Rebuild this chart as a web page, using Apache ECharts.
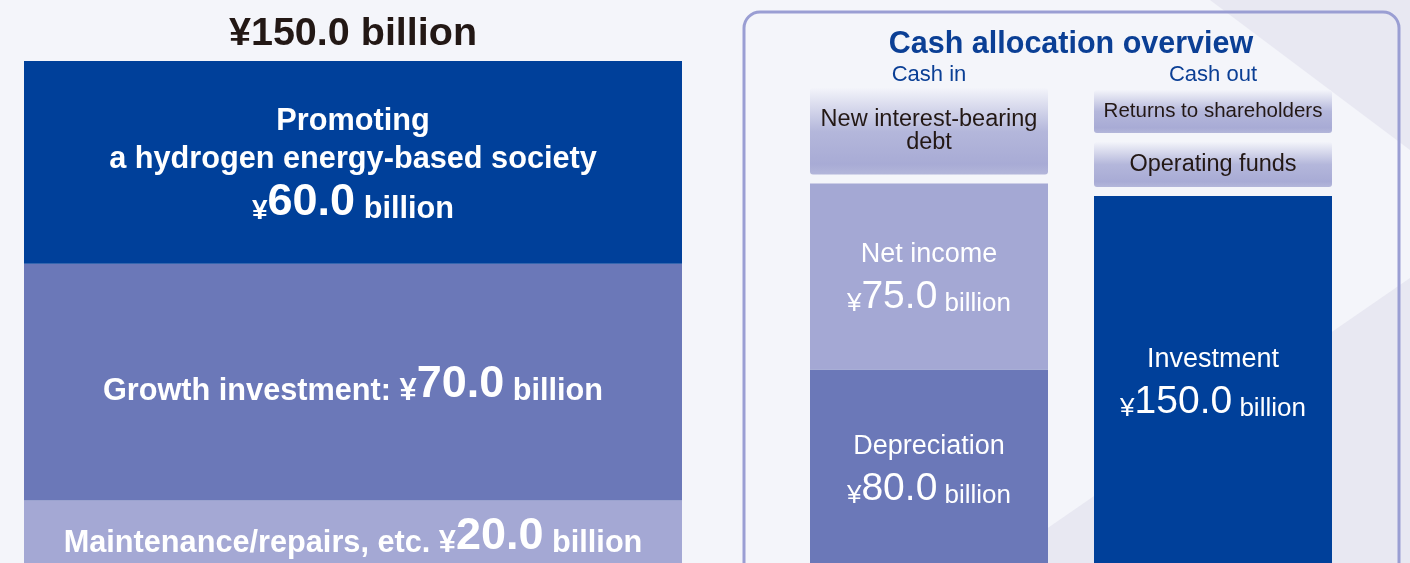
<!DOCTYPE html>
<html>
<head>
<meta charset="utf-8">
<title>Capital investment and cash allocation</title>
<script src="https://cdn.jsdelivr.net/npm/echarts@6/dist/echarts.min.js"></script>
<style>
  html, body { margin: 0; padding: 0; background: #f4f5fa; }
  #chart { width: 1410px; height: 563px; }
</style>
</head>
<body>
<div id="chart"></div>
<script>
// capital investment plan, ¥ billion, stacked bottom to top
const capexTotal = 150.0
const capexNames = ['Maintenance/repairs, etc.', 'Growth investment:', 'Promoting\na hydrogen energy-based society']
const capexValues = [20.0, 70.0, 60.0]

// cash allocation overview, ¥ billion, stacked bottom to top
const flowCategories = ['Cash in', 'Cash out']
const cashInNames = ['Depreciation', 'Net income']
const cashInValues = [80.0, 75.0]
const cashOutNames = ['Investment']
const cashOutValues = [150.0]
// these amounts are not printed
const cashInOtherNames = ['New interest-bearing\ndebt']
const cashInOtherValues = [38.5]
const cashOutOtherNames = ['Operating funds', 'Returns to shareholders']
const cashOutOtherValues = [21.8, 20.9]

const FONT = '"Liberation Sans", Arial, Helvetica, sans-serif'
const DARK = '#00409a'
const MID = '#6b78b8'
const LIGHT = '#a4a8d4'
const capexColors = [LIGHT, MID, DARK]
const flowColors = { 'Depreciation': MID, 'Net income': LIGHT, 'Investment': DARK }
const FLOW_BAR_WIDTH = 238
const BOX_GAP = 9

function buildColumn (cat, names, values, otherNames, otherValues) {
  const items = []
  let base = 0
  names.forEach((name, i) => {
    items.push({ cat: cat, name: name, value: values[i], start: base, end: base + values[i], boxed: false })
    base += values[i]
  })
  otherNames.forEach((name, i) => {
    items.push({ cat: cat, name: name, value: otherValues[i], start: base, end: base + otherValues[i], boxed: true })
    base += otherValues[i]
  })
  return items
}

const flowItems = buildColumn(0, cashInNames, cashInValues, cashInOtherNames, cashInOtherValues)
  .concat(buildColumn(1, cashOutNames, cashOutValues, cashOutOtherNames, cashOutOtherValues))

const boxGradient = new echarts.graphic.LinearGradient(0, 0, 0, 1, [
  { offset: 0, color: '#f3f4fa' },
  { offset: 0.5, color: '#b4b7db' },
  { offset: 0.88, color: '#a8abd5' },
  { offset: 1, color: '#b3b6da' }
])

function renderFlow (params, api) {
  const item = flowItems[params.dataIndex]
  const bottom = api.coord([api.value(0), api.value(1)])
  const top = api.coord([api.value(0), api.value(2)])
  const y0 = item.boxed ? bottom[1] - BOX_GAP : bottom[1]
  let style
  if (item.boxed) {
    // long one-liners are set a bit smaller so they fit the box
    const longest = Math.max.apply(null, item.name.split('\n').map(l => l.length))
    style = {
      text: item.name,
      fill: '#231815',
      fontFamily: FONT,
      fontSize: longest > 21 ? 20.5 : 23.5,
      lineHeight: 23,
      align: 'center',
      verticalAlign: 'middle'
    }
  } else {
    style = {
      text: '{a|' + item.name + '}\n{s|¥}{b|' + item.value.toFixed(1) + '}{s| billion}',
      fill: '#ffffff',
      fontFamily: FONT,
      align: 'center',
      verticalAlign: 'middle',
      rich: {
        a: { fill: '#ffffff', fontFamily: FONT, fontSize: 27, lineHeight: 36 },
        s: { fill: '#ffffff', fontFamily: FONT, fontSize: 26, lineHeight: 44, verticalAlign: 'bottom' },
        b: { fill: '#ffffff', fontFamily: FONT, fontSize: 39, lineHeight: 44, verticalAlign: 'bottom' }
      }
    }
  }
  return {
    type: 'rect',
    shape: {
      x: bottom[0] - FLOW_BAR_WIDTH / 2,
      y: top[1],
      width: FLOW_BAR_WIDTH,
      height: y0 - top[1],
      r: item.boxed ? 3 : 0
    },
    style: { fill: item.boxed ? boxGradient : flowColors[item.name] },
    textContent: { style: style },
    textConfig: { position: 'inside' }
  }
}

function capexLabel (params) {
  const i = params.seriesIndex
  const lines = capexNames[i].split('\n')
  const amount = '{y|¥}{n|' + capexValues[i].toFixed(1) + '}{t| billion}'
  if (lines.length > 1) {
    return lines.map(l => '{t|' + l + '}').join('\n') + '\n' + amount
  }
  return '{t|' + lines[0] + ' ¥}{n|' + capexValues[i].toFixed(1) + '}{t| billion}'
}

const capexRich = {
  t: { color: '#fff', fontFamily: FONT, fontWeight: 'bold', fontSize: 30.7, lineHeight: 38, verticalAlign: 'bottom' },
  y: { color: '#fff', fontFamily: FONT, fontWeight: 'bold', fontSize: 28, lineHeight: 50, verticalAlign: 'bottom' },
  n: { color: '#fff', fontFamily: FONT, fontWeight: 'bold', fontSize: 45, lineHeight: 50, verticalAlign: 'bottom' }
}

const chart = echarts.init(document.getElementById('chart'))

chart.setOption({
  backgroundColor: '#f4f5fa',
  animation: false,
  textStyle: { fontFamily: FONT },
  title: [
    {
      text: '¥' + capexTotal.toFixed(1) + ' billion',
      left: 348,
      top: 9,
      textAlign: 'center',
      textStyle: { color: '#231815', fontSize: 39.5, fontWeight: 'bold', fontFamily: FONT }
    },
    {
      text: 'Cash allocation overview',
      left: 1066,
      top: 24,
      textAlign: 'center',
      textStyle: { color: '#0b3f95', fontSize: 30.5, fontWeight: 'bold', fontFamily: FONT }
    }
  ],
  graphic: [
    { type: 'polygon', silent: true, z: 0, shape: { points: [[1210, 0], [1410, 0], [1410, 150]] }, style: { fill: '#e8e8f2' } },
    { type: 'polygon', silent: true, z: 0, shape: { points: [[997, 563], [1410, 278], [1410, 563]] }, style: { fill: '#e8e8f2' } },
    {
      type: 'rect',
      silent: true,
      z: 1,
      shape: { x: 744, y: 12, width: 655, height: 600, r: 16 },
      style: { fill: 'none', stroke: '#9a9ed3', lineWidth: 3 }
    }
  ],
  // both stacks run past the bottom edge of the picture
  grid: [
    { left: 24, width: 658, top: 61, height: 507, outerBoundsMode: 'none' },
    { left: 787, width: 568, top: 72, height: 496, outerBoundsMode: 'none' }
  ],
  xAxis: [
    { gridIndex: 0, type: 'category', data: ['Capital investment'], show: false },
    {
      gridIndex: 1,
      type: 'category',
      data: flowCategories,
      position: 'top',
      axisLine: { show: false },
      axisTick: { show: false },
      axisLabel: { color: '#0b3f95', fontSize: 22, fontFamily: FONT, margin: -14 }
    }
  ],
  yAxis: [
    { gridIndex: 0, type: 'value', min: 0, max: 150, show: false },
    { gridIndex: 1, type: 'value', min: 0, max: 200, show: false }
  ],
  series: capexNames.map((name, i) => ({
    name: name,
    type: 'bar',
    stack: 'capex',
    xAxisIndex: 0,
    yAxisIndex: 0,
    barWidth: '100%',
    data: [capexValues[i]],
    itemStyle: { color: capexColors[i] },
    label: {
      show: true,
      position: 'inside',
      formatter: capexLabel,
      rich: capexRich
    }
  })).concat([{
    name: 'Cash allocation',
    type: 'custom',
    xAxisIndex: 1,
    yAxisIndex: 1,
    renderItem: renderFlow,
    data: flowItems.map(d => [d.cat, d.start, d.end])
  }])
})
</script>
</body>
</html>
